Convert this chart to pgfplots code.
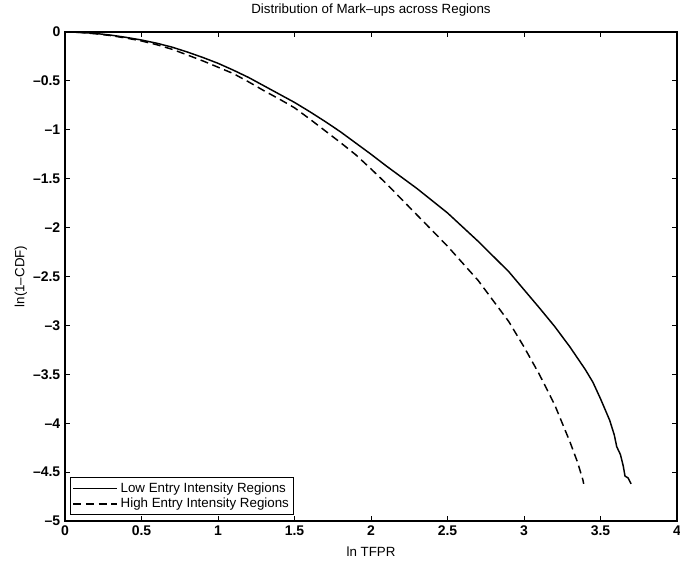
\documentclass[border=0pt]{standalone}
\usepackage{fontspec}
\setmainfont{Liberation Sans}
\usepackage{pgfplots}
\pgfplotsset{compat=1.18}
\begin{document}
\begin{tikzpicture}
\begin{axis}[
  scale only axis,
  width=459pt, height=366.75pt,
  xmin=0, xmax=4, ymin=-5, ymax=0,
  axis line style={line width=0.9pt},
  every tick/.style={line width=0.6pt, black},
  major tick length=3.75pt,
  tick align=inside,
  xtick={0,0.5,1,1.5,2,2.5,3,3.5,4},
  xticklabels={0,0.5,1,1.5,2,2.5,3,3.5,4},
  ytick={0,-0.5,-1,-1.5,-2,-2.5,-3,-3.5,-4,-4.5,-5},
  yticklabels={0,\textendash0.5,\textendash1,\textendash1.5,\textendash2,\textendash2.5,\textendash3,\textendash3.5,\textendash4,\textendash4.5,\textendash5},
  tick label style={font=\fontsize{10.5}{12}\selectfont\bfseries},
  title={Distribution of Mark\textendash ups across Regions},
  title style={at={(axis description cs:0.5,1)}, anchor=base, yshift=8pt, font=\fontsize{10}{12}\selectfont},
  xlabel={ln TFPR},
  xlabel style={at={(axis description cs:0.5,0)}, anchor=base, yshift=-27pt, font=\fontsize{10}{12}\selectfont},
  ylabel={ln(1\textendash CDF)},
  ylabel style={at={(axis description cs:-0.072,0.5)}, anchor=center, font=\fontsize{10}{12}\selectfont},
  legend style={at={(axis description cs:0,0)}, anchor=south west, xshift=3.75pt, yshift=4.5pt,
    font=\fontsize{10}{12}\selectfont, draw=black, line width=0.8pt, inner sep=1.5pt,
    row sep=-1pt, cells={anchor=west}},
  legend image code/.code={\draw[#1] (0pt,0pt) -- (33pt,0pt);},
]
\addplot[black, line width=1.1pt] coordinates {
(0,0) (0.1,-0.004) (0.2,-0.015) (0.3,-0.032) (0.4,-0.055) (0.5,-0.082)
(0.6,-0.115) (0.7,-0.155) (0.8,-0.205) (0.9,-0.26) (1.0,-0.32) (1.1,-0.39)
(1.2,-0.465) (1.3,-0.55) (1.4,-0.635) (1.5,-0.72) (1.6,-0.815) (1.7,-0.915)
(1.8,-1.02) (1.9,-1.135) (2.0,-1.25) (2.1,-1.37)
(2.3,-1.60) (2.5,-1.85) (2.7,-2.14) (2.9,-2.45) (3.1,-2.82)
(3.2,-3.01) (3.3,-3.22) (3.4,-3.45) (3.45,-3.58) (3.5,-3.75)
(3.53,-3.86) (3.56,-3.97) (3.59,-4.12) (3.606,-4.24)
(3.63,-4.32) (3.649,-4.44) (3.66,-4.54) (3.68,-4.56) (3.70,-4.62)
};
\addlegendentry{Low Entry Intensity Regions}
\addplot[black, line width=1.1pt, dash pattern=on 6pt off 3.5pt] coordinates {
(0,0) (0.1,-0.005) (0.2,-0.018) (0.3,-0.037) (0.4,-0.062) (0.5,-0.092)
(0.6,-0.13) (0.7,-0.177) (0.8,-0.235) (0.9,-0.295) (1.0,-0.36) (1.1,-0.425)
(1.2,-0.51) (1.3,-0.60) (1.4,-0.685) (1.5,-0.775) (1.6,-0.89) (1.7,-1.01)
(1.8,-1.13) (1.9,-1.255) (2.0,-1.40) (2.1,-1.55) (2.3,-1.87)
(2.5,-2.19) (2.7,-2.54) (2.9,-2.96) (3.0,-3.22) (3.1,-3.50)
(3.2,-3.81) (3.3,-4.19) (3.35,-4.40) (3.385,-4.58) (3.39,-4.62)
};
\addlegendentry{High Entry Intensity Regions}
\end{axis}
\pgfresetboundingbox
\path[use as bounding box] ([shift={(-48.75pt,-30pt)}]current axis.south west) rectangle ([shift={(2.25pt,24pt)}]current axis.north east);
\end{tikzpicture}
\end{document}
